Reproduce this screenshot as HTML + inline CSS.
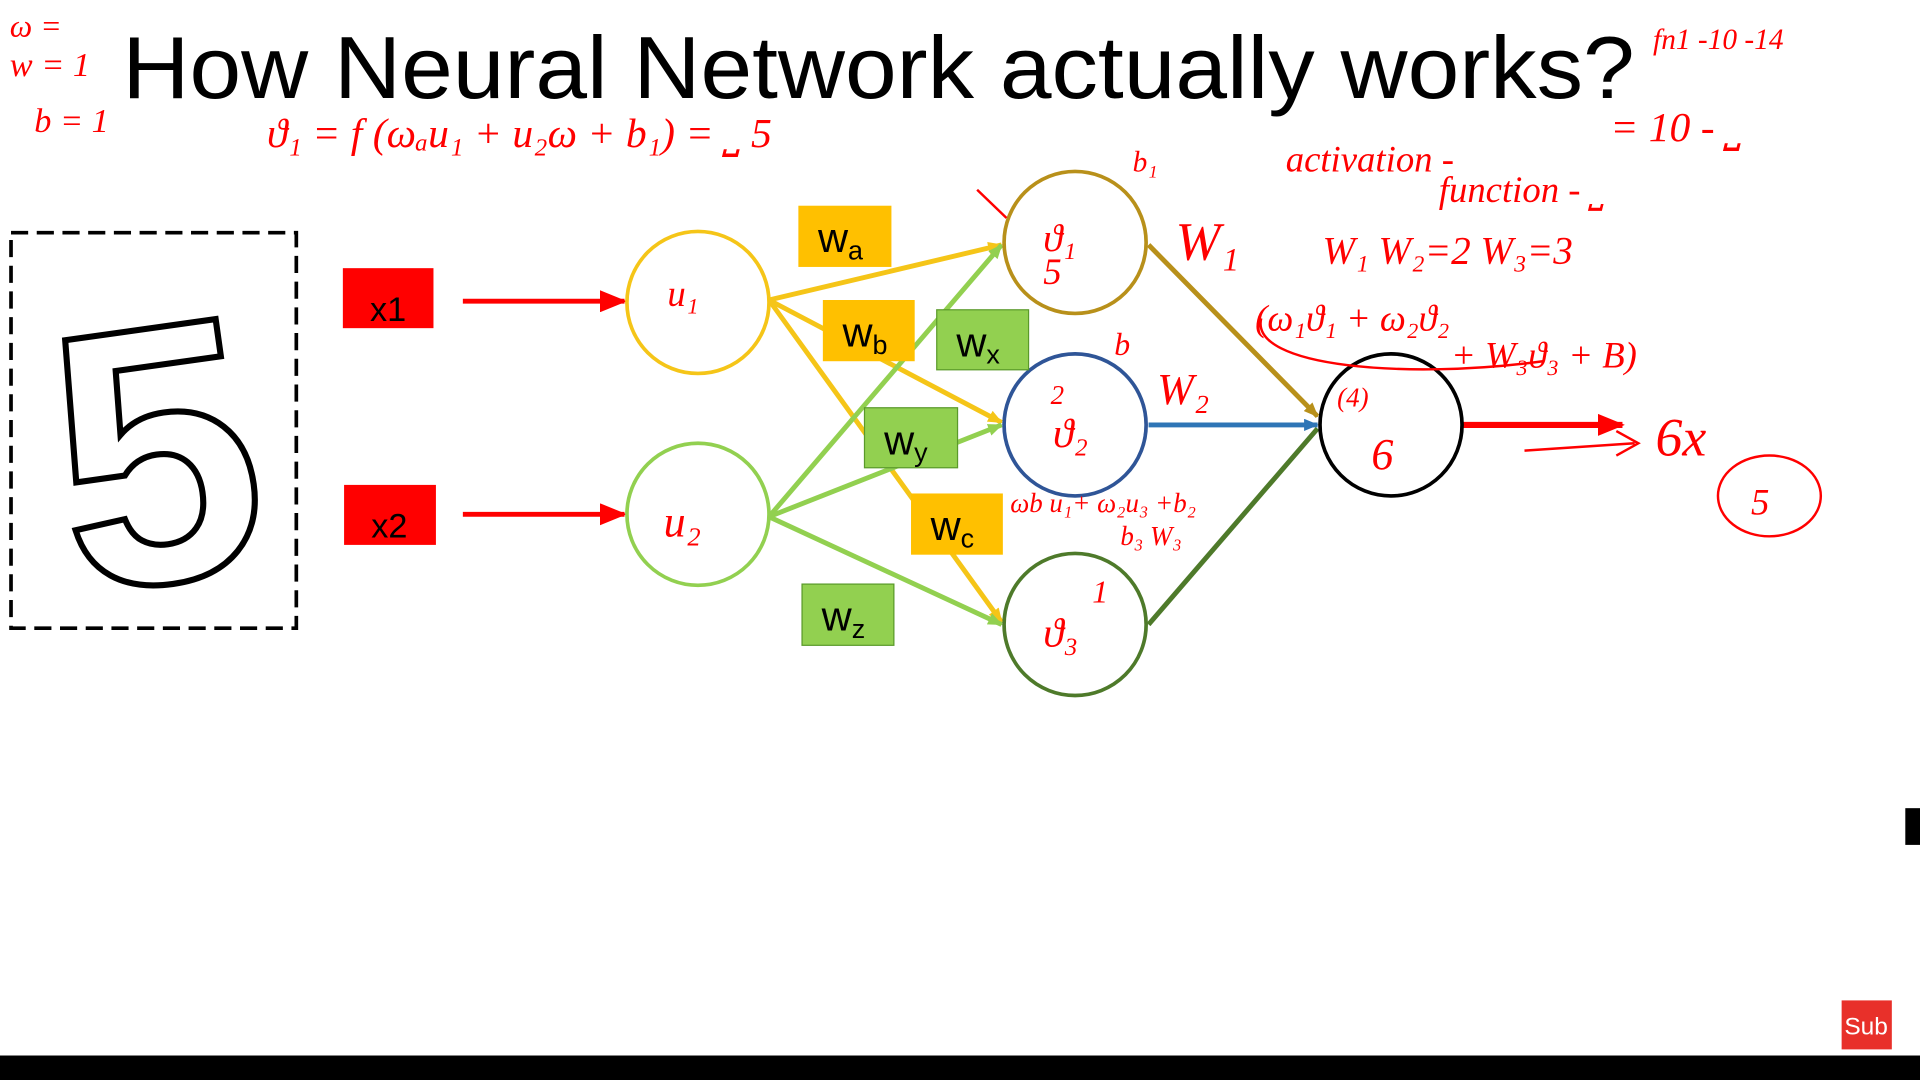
<!DOCTYPE html>
<html><head><meta charset="utf-8"><style>
html,body{margin:0;padding:0;background:#fff;width:1920px;height:1080px;overflow:hidden}
svg{display:block}
</style></head><body>
<svg width="1920" height="1080" viewBox="0 0 1568 882" xmlns="http://www.w3.org/2000/svg" font-family="Liberation Sans, sans-serif">
<defs>
<marker id="ay" markerWidth="12" markerHeight="10" refX="11" refY="5" orient="auto" markerUnits="userSpaceOnUse"><path d="M0,0 L12,5 L0,10z" fill="#f5c518"/></marker>
<marker id="ag" markerWidth="12" markerHeight="10" refX="11" refY="5" orient="auto" markerUnits="userSpaceOnUse"><path d="M0,0 L12,5 L0,10z" fill="#92d050"/></marker>
<marker id="ab" markerWidth="12" markerHeight="10" refX="11" refY="5" orient="auto" markerUnits="userSpaceOnUse"><path d="M0,0 L12,5 L0,10z" fill="#2e75b6"/></marker>
<marker id="ak" markerWidth="12" markerHeight="10" refX="11" refY="5" orient="auto" markerUnits="userSpaceOnUse"><path d="M0,0 L12,5 L0,10z" fill="#b8901a"/></marker>
<marker id="aR" markerWidth="22" markerHeight="18" refX="20" refY="9" orient="auto" markerUnits="userSpaceOnUse"><path d="M0,0 L22,9 L0,18z" fill="red"/></marker>
</defs>
<rect width="1568" height="882" fill="#fff"/>
<text x="100" y="80" font-size="72" textLength="1235" lengthAdjust="spacingAndGlyphs">How Neural Network actually works?</text>

<rect x="9" y="190" width="233" height="323" fill="none" stroke="#000" stroke-width="3" stroke-dasharray="14 7"/>
<text x="125" y="475" font-size="300" text-anchor="middle" fill="#fff" stroke="#000" stroke-width="5" font-weight="bold" transform="rotate(-8 125 350)">5</text>

<rect x="280" y="219" width="74" height="49" fill="#ff0000"/>
<text x="317" y="262" font-size="28" text-anchor="middle">x1</text>
<rect x="281" y="396" width="75" height="49" fill="#ff0000"/>
<text x="318" y="439" font-size="28" text-anchor="middle">x2</text>
<line x1="378" y1="246" x2="510" y2="246" stroke="red" stroke-width="4" marker-end="url(#aR)"/>
<line x1="378" y1="420" x2="510" y2="420" stroke="red" stroke-width="4" marker-end="url(#aR)"/>

<g stroke-width="4">
<line x1="628" y1="245" x2="818" y2="200" stroke="#f5c518" marker-end="url(#ay)"/>
<line x1="628" y1="245" x2="818" y2="345" stroke="#f5c518" marker-end="url(#ay)"/>
<line x1="628" y1="245" x2="818" y2="508" stroke="#f5c518" marker-end="url(#ay)"/>
<line x1="628" y1="422" x2="818" y2="200" stroke="#92d050" marker-end="url(#ag)"/>
<line x1="628" y1="422" x2="818" y2="347" stroke="#92d050" marker-end="url(#ag)"/>
<line x1="628" y1="422" x2="818" y2="510" stroke="#92d050" marker-end="url(#ag)"/>
<line x1="938" y1="200" x2="1076" y2="340" stroke="#b8901a" marker-end="url(#ak)"/>
<line x1="938" y1="347" x2="1076" y2="347" stroke="#2e75b6" marker-end="url(#ab)"/>
<line x1="938" y1="510" x2="1076" y2="350" stroke="#4e7a2a"/>
</g>
<line x1="1195" y1="347" x2="1325" y2="347" stroke="red" stroke-width="5" marker-end="url(#aR)"/>

<g fill="#fff" stroke-width="3">
<circle cx="570" cy="247" r="58" stroke="#f5c518"/>
<circle cx="570" cy="420" r="58" stroke="#92d050"/>
<circle cx="878" cy="198" r="58" stroke="#b8901a"/>
<circle cx="878" cy="347" r="58" stroke="#2f5597"/>
<circle cx="878" cy="510" r="58" stroke="#4e7a2a"/>
<circle cx="1136" cy="347" r="58" stroke="#000"/>
</g>

<g font-size="34">
<rect x="652" y="168" width="76" height="50" fill="#ffc000"/><text x="668" y="206">w<tspan font-size="22" dy="6">a</tspan></text>
<rect x="672" y="245" width="75" height="50" fill="#ffc000"/><text x="688" y="283">w<tspan font-size="22" dy="6">b</tspan></text>
<rect x="765" y="253" width="75" height="49" fill="#92d050" stroke="#5a9a2a"/><text x="781" y="291">w<tspan font-size="22" dy="6">x</tspan></text>
<rect x="706" y="333" width="76" height="49" fill="#92d050" stroke="#5a9a2a"/><text x="722" y="371">w<tspan font-size="22" dy="6">y</tspan></text>
<rect x="744" y="403" width="75" height="50" fill="#ffc000"/><text x="760" y="441">w<tspan font-size="22" dy="6">c</tspan></text>
<rect x="655" y="477" width="75" height="50" fill="#92d050" stroke="#5a9a2a"/><text x="671" y="515">w<tspan font-size="22" dy="6">z</tspan></text>
</g>

<g fill="red" font-family="Liberation Serif, serif" font-style="italic">
<text x="545" y="250" font-size="30">u₁</text>
<text x="542" y="438" font-size="36">u₂</text>
<text x="852" y="205" font-size="32">ϑ₁</text>
<text x="852" y="232" font-size="30">5</text>
<text x="858" y="330" font-size="22">2</text>
<text x="860" y="365" font-size="34">ϑ₂</text>
<text x="852" y="528" font-size="34">ϑ₃</text>
<text x="892" y="492" font-size="26">1</text>
<text x="1092" y="332" font-size="22">(4)</text>
<text x="1120" y="383" font-size="36">6</text>
<text x="218" y="120" font-size="34">ϑ₁ = f (ωₐu₁ + u₂ω + b₁) = ⎵ 5</text>
<text x="8" y="30" font-size="26">ω =</text>
<text x="8" y="62" font-size="28">w = 1</text>
<text x="28" y="108" font-size="28">b = 1</text>
<text x="1350" y="40" font-size="24">fn1 -10 -14</text>
<text x="1315" y="115" font-size="34">= 10 - ⎵</text>
<text x="1050" y="140" font-size="30">activation -</text>
<text x="1175" y="165" font-size="30">function - ⎵</text>
<text x="1080" y="215" font-size="32">W₁ W₂=2 W₃=3</text>
<text x="1025" y="270" font-size="30">(ω₁ϑ₁ + ω₂ϑ₂</text>
<text x="1185" y="300" font-size="30">+ W₃ϑ₃ + B)</text>
<text x="925" y="140" font-size="24">b₁</text>
<text x="960" y="212" font-size="44">W₁</text>
<text x="910" y="290" font-size="26">b</text>
<text x="945" y="330" font-size="36">W₂</text>
<text x="825" y="418" font-size="22">ωb u₁+ ω₂u₃ +b₂</text>
<text x="915" y="445" font-size="22">b₃ W₃</text>
<text x="1352" y="372" font-size="44">6x</text>
<text x="1430" y="420" font-size="30">5</text>
</g>
<g fill="none" stroke="red" stroke-width="2">
<ellipse cx="1445" cy="405" rx="42" ry="33"/>
<path d="M1030,260 C1020,300 1150,310 1260,295"/>
<path d="M1245,368 L1335,362 M1320,352 L1338,362 L1320,372"/>
<path d="M798,155 L822,178"/>
</g>

<rect x="1504" y="817" width="41" height="40" fill="#e8302a"/>
<text x="1524" y="845" font-size="20" fill="#fff" text-anchor="middle">Sub</text>
<rect x="1556" y="660" width="12" height="30" fill="#000"/>
<rect x="0" y="862" width="1568" height="20" fill="#000"/>
</svg>
</body></html>
